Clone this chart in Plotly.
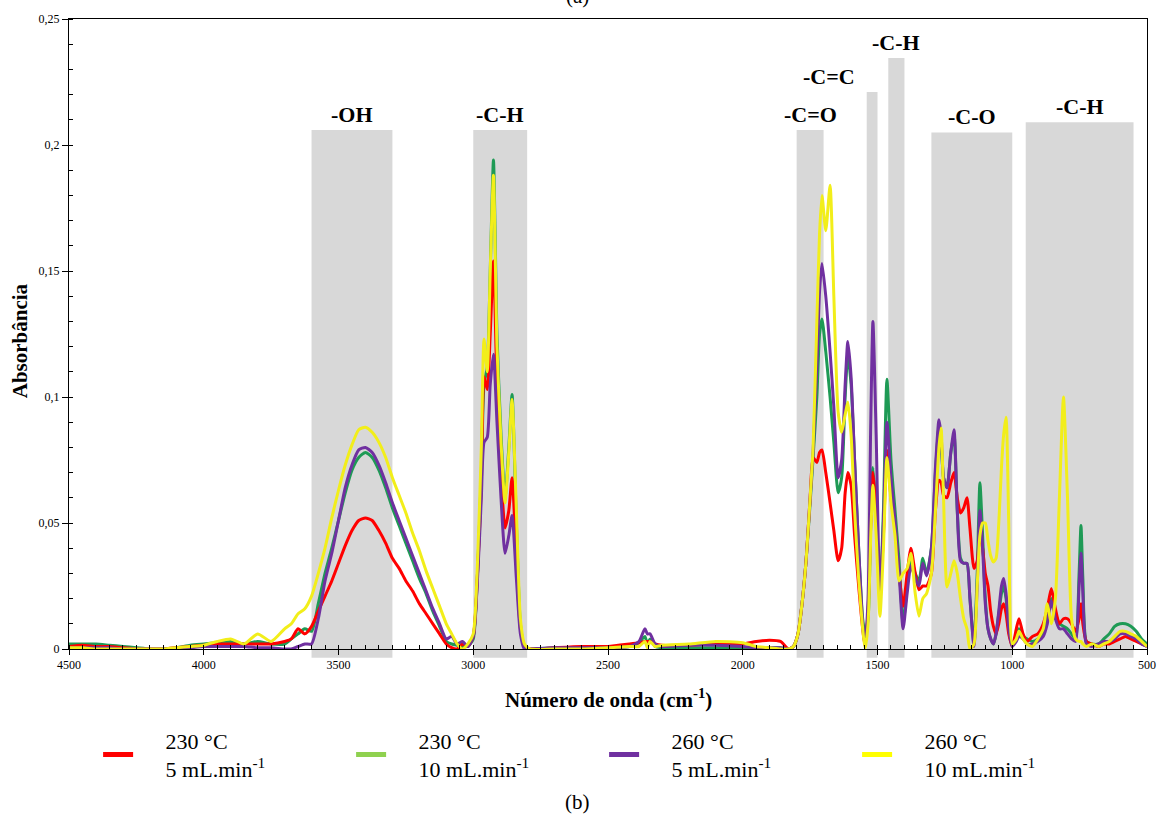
import plotly.graph_objects as go

# ---------------- data ----------------
wavenumber = [
    4500, 4450, 4400, 4350, 4300, 4250, 4200, 4150, 4100, 4050, 4000, 3950, 3900, 3850, 3800, 3750,
    3700, 3675, 3650, 3625,
    3600, 3575, 3550, 3525, 3500, 3475, 3450, 3425, 3400, 3375, 3350, 3325, 3300, 3275, 3250, 3225,
    3200, 3175, 3150, 3125, 3100,
    3080, 3060, 3040, 3020, 3000,
    2985, 2970, 2960, 2948, 2937, 2925, 2912, 2897, 2882, 2868, 2856, 2840, 2825, 2810, 2790,
    2700, 2600, 2500, 2420, 2385, 2363, 2354, 2344, 2325, 2300, 2200, 2100, 2000, 1950, 1900, 1860, 1830,
    1812, 1795, 1780, 1765, 1750, 1739, 1725, 1715, 1706, 1692, 1676, 1662, 1646, 1633, 1620, 1610,
    1598, 1585, 1570, 1555, 1546,
    1535, 1525, 1517, 1505, 1491, 1478, 1465, 1450, 1435, 1420, 1405, 1390, 1376, 1360, 1346, 1332,
    1318, 1300,
    1285, 1272, 1264, 1255, 1242, 1228, 1216, 1204, 1192, 1180, 1168, 1157, 1142, 1130, 1120, 1110,
    1100, 1090, 1080, 1070, 1060, 1050, 1040, 1032, 1023, 1013, 1000,
    985, 975, 960, 945, 925, 905, 885, 870, 855, 840, 825, 810, 795, 780, 765, 752, 745, 738, 725,
    705, 680, 660, 640, 620, 600, 580, 560, 540, 520, 500,
]

abs_230_5 = [
    0.001, 0.0015, 0.001, 0.001, 0.0005, 0, 0, 0, 0.0005, 0.001, 0.0015, 0.002, 0.002, 0.002, 0.002, 0.002,
    0.003, 0.004, 0.008, 0.006,
    0.009, 0.015, 0.021, 0.027, 0.034, 0.041, 0.047, 0.051, 0.052, 0.051, 0.047, 0.042, 0.036, 0.032, 0.027, 0.023,
    0.018, 0.014, 0.010, 0.006, 0.002,
    0.0005, 0.0, 0.002, 0.001, 0.005,
    0.028, 0.065, 0.108, 0.103, 0.125, 0.154, 0.105, 0.070, 0.048, 0.055, 0.068, 0.035, 0.008, 0.001, 0.0,
    0.0005, 0.001, 0.001, 0.002, 0.0025, 0.003, 0.003, 0.003, 0.002, 0.0015, 0.0015, 0.002, 0.002, 0.003, 0.0035, 0.003, 0.0,
    0.001, 0.006, 0.018, 0.035, 0.060, 0.076, 0.074, 0.078, 0.079, 0.070, 0.058, 0.047, 0.035, 0.040, 0.062, 0.070,
    0.065, 0.045, 0.025, 0.008, 0.001,
    0.015, 0.050, 0.070, 0.055, 0.022, 0.045, 0.079, 0.060, 0.048, 0.030, 0.017, 0.030, 0.040, 0.030, 0.0235, 0.025,
    0.025, 0.030,
    0.055, 0.067, 0.066, 0.061, 0.060, 0.066, 0.070, 0.060, 0.054, 0.056, 0.060, 0.048, 0.032, 0.035, 0.046, 0.040,
    0.030, 0.025, 0.015, 0.009, 0.006, 0.010, 0.016, 0.018, 0.014, 0.006, 0.001,
    0.008, 0.012, 0.006, 0.003, 0.005, 0.006, 0.010, 0.016, 0.024, 0.016, 0.010, 0.012, 0.012, 0.010, 0.007, 0.012, 0.018, 0.010, 0.003,
    0.002, 0.001, 0.002, 0.002, 0.003, 0.004, 0.005, 0.004, 0.003, 0.002, 0.001,
]

abs_230_10 = [
    0.002, 0.002, 0.002, 0.0015, 0.001, 0.0005, 0, 0, 0.0005, 0.0015, 0.002, 0.0025, 0.003, 0.002, 0.003, 0.002,
    0.002, 0.004, 0.006, 0.008,
    0.007, 0.018, 0.030, 0.040, 0.051, 0.062, 0.071, 0.076, 0.078, 0.076, 0.071, 0.064, 0.056, 0.049, 0.042, 0.035,
    0.028, 0.022, 0.015, 0.009, 0.003,
    0.002, 0.0015, 0.001, 0.001, 0.004,
    0.028, 0.070, 0.105, 0.112, 0.150, 0.194, 0.125, 0.085, 0.060, 0.080, 0.101, 0.050, 0.010, 0.001, 0.0,
    0.0005, 0.0005, 0.0005, 0.001, 0.0025, 0.005, 0.002, 0.004, 0.001, 0.0005, 0.0005, 0.0005, 0.0005, 0.0005, 0.0005, 0.0005, 0.0,
    0.001, 0.006, 0.018, 0.035, 0.058, 0.076, 0.100, 0.125, 0.131, 0.118, 0.100, 0.082, 0.062, 0.068, 0.100, 0.117,
    0.105, 0.075, 0.040, 0.012, 0.006,
    0.012, 0.050, 0.072, 0.055, 0.022, 0.055, 0.107, 0.075, 0.055, 0.035, 0.010, 0.025, 0.036, 0.030, 0.027, 0.036,
    0.030, 0.040,
    0.070, 0.088, 0.082, 0.068, 0.064, 0.078, 0.085, 0.055, 0.036, 0.034, 0.034, 0.020, 0.002, 0.030, 0.066, 0.045,
    0.020, 0.008, 0.004, 0.002, 0.006, 0.014, 0.022, 0.025, 0.020, 0.008, 0.001,
    0.005, 0.008, 0.005, 0.004, 0.003, 0.004, 0.007, 0.012, 0.020, 0.014, 0.010, 0.009, 0.008, 0.006, 0.004, 0.030, 0.049, 0.028, 0.003,
    0.002, 0.002, 0.004, 0.006, 0.009, 0.010, 0.010, 0.009, 0.007, 0.004, 0.002,
]

abs_260_5 = [
    0.0005, 0.0005, 0.0005, 0.0005, 0, 0, 0, 0, 0, 0.0005, 0.001, 0.001, 0.001, 0.001, 0.0005, 0.0005,
    0.0, 0.0, 0.001, 0.002,
    0.002, 0.012, 0.027, 0.038, 0.051, 0.064, 0.073, 0.079, 0.080, 0.078, 0.073, 0.066, 0.058, 0.051, 0.044, 0.037,
    0.030, 0.023, 0.016, 0.010, 0.004,
    0.005, 0.002, 0.003, 0.001, 0.005,
    0.026, 0.060, 0.082, 0.084, 0.105, 0.117, 0.090, 0.060, 0.038, 0.045, 0.053, 0.028, 0.006, 0.0, 0.0,
    0.0005, 0.0005, 0.0005, 0.001, 0.003, 0.008, 0.006, 0.006, 0.002, 0.001, 0.0015, 0.0015, 0.001, 0.0005, 0.0005, 0.0005, 0.0,
    0.001, 0.006, 0.018, 0.035, 0.060, 0.078, 0.112, 0.142, 0.153, 0.140, 0.118, 0.096, 0.068, 0.075, 0.105, 0.122,
    0.108, 0.075, 0.040, 0.010, 0.001,
    0.020, 0.090, 0.130, 0.085, 0.022, 0.050, 0.090, 0.068, 0.051, 0.030, 0.008, 0.022, 0.033, 0.028, 0.025, 0.034,
    0.029, 0.040,
    0.072, 0.091, 0.085, 0.068, 0.064, 0.078, 0.087, 0.055, 0.035, 0.034, 0.034, 0.020, 0.001, 0.025, 0.055, 0.040,
    0.018, 0.008, 0.004, 0.002, 0.006, 0.015, 0.025, 0.028, 0.022, 0.008, 0.001,
    0.003, 0.005, 0.004, 0.002, 0.002, 0.003, 0.005, 0.010, 0.019, 0.012, 0.008, 0.008, 0.006, 0.004, 0.003, 0.025, 0.038, 0.022, 0.002,
    0.001, 0.002, 0.003, 0.003, 0.004, 0.006, 0.006, 0.005, 0.004, 0.002, 0.001,
]

abs_260_10 = [
    0.0005, 0.0005, 0, 0, 0, 0, 0, 0, 0.0005, 0.001, 0.0015, 0.003, 0.004, 0.002, 0.006, 0.003,
    0.008, 0.010, 0.014, 0.016,
    0.021, 0.030, 0.040, 0.052, 0.063, 0.073, 0.081, 0.087, 0.088, 0.086, 0.082, 0.076, 0.068, 0.061, 0.054, 0.046,
    0.039, 0.031, 0.024, 0.017, 0.010,
    0.006, 0.002, 0.0, 0.002, 0.006,
    0.032, 0.080, 0.123, 0.110, 0.150, 0.188, 0.120, 0.082, 0.058, 0.078, 0.099, 0.055, 0.012, 0.002, 0.0,
    0.0, 0.0, 0.0005, 0.001, 0.001, 0.003, 0.0005, 0.003, 0.001, 0.0015, 0.002, 0.003, 0.0025, 0.001, 0.0005, 0.0, 0.0,
    0.001, 0.006, 0.018, 0.035, 0.060, 0.080, 0.130, 0.165, 0.180, 0.166, 0.184, 0.140, 0.094, 0.086, 0.093, 0.098,
    0.085, 0.055, 0.028, 0.008, 0.0,
    0.010, 0.045, 0.065, 0.045, 0.013, 0.040, 0.076, 0.058, 0.045, 0.027, 0.030, 0.032, 0.038, 0.022, 0.013, 0.020,
    0.022, 0.030,
    0.055, 0.080, 0.0877, 0.060, 0.0246, 0.030, 0.035, 0.030, 0.020, 0.012, 0.008, 0.0, 0.002, 0.025, 0.045, 0.050,
    0.050, 0.043, 0.037, 0.0345, 0.036, 0.050, 0.072, 0.085, 0.092, 0.050, 0.002,
    0.004, 0.007, 0.004, 0.002, 0.001, 0.004, 0.008, 0.018, 0.010, 0.020, 0.060, 0.100, 0.060, 0.012, 0.004, 0.003, 0.003, 0.002, 0.001,
    0.002, 0.001, 0.002, 0.003, 0.005, 0.007, 0.007, 0.006, 0.005, 0.003, 0.001,
]

temperatures = ["230 °C", "230 °C", "260 °C", "260 °C"]
flow_rates = ["5 mL.min<sup>-1</sup>", "10 mL.min<sup>-1</sup>",
              "5 mL.min<sup>-1</sup>", "10 mL.min<sup>-1</sup>"]

# absorption bands (grey boxes)
band_start = [3600, 3000, 1800, 1540, 1460, 1300, 950]
band_end = [3300, 2800, 1700, 1500, 1400, 1000, 550]
band_top = [0.206, 0.206, 0.206, 0.221, 0.2345, 0.205, 0.209]
band_label = ["-OH", "-C-H", "-C=O", "-C=C", "-C-H", "-C-O", "-C-H"]
band_label_x = [3450, 2900, 1750, 1680, 1430, 1150, 750]

x_ticks = [4500, 4000, 3500, 3000, 2500, 2000, 1500, 1000, 500]

# ---------------- styling ----------------
series = [abs_230_5, abs_230_10, abs_260_5, abs_260_10]
trace_colors = ["#FF0000", "#1E9A55", "#7030A0", "#F2EE1A"]
legend_colors = ["#FF0000", "#8FD14F", "#7030A0", "#FFFF00"]
SERIF = "Liberation Serif"
PAD = "&nbsp;" * 5

fig = go.Figure()

for idx in [1, 0, 2, 3]:
    fig.add_trace(go.Scatter(
        x=wavenumber, y=series[idx], mode="lines",
        line=dict(color=trace_colors[idx], width=3, shape="spline", smoothing=0.6),
        showlegend=False, hoverinfo="skip",
    ))

for idx in range(4):
    fig.add_trace(go.Scatter(
        x=[None], y=[None], mode="lines",
        name=PAD + temperatures[idx] + "<br>" + PAD + flow_rates[idx],
        line=dict(color=legend_colors[idx], width=5),
    ))

Y_MAX = 0.25
for x0, x1, top in zip(band_start, band_end, band_top):
    fig.add_shape(type="rect", xref="x", yref="paper", x0=x0, x1=x1,
                  y0=-0.014, y1=top / Y_MAX, fillcolor="#D8D8D8",
                  line=dict(width=0), layer="below")

for lx, top, lab in zip(band_label_x, band_top, band_label):
    fig.add_annotation(x=lx, y=top, xref="x", yref="y", text="<b>%s</b>" % lab,
                       showarrow=False, yanchor="bottom", yshift=1,
                       font=dict(family=SERIF, size=22, color="black"))

# axis titles
fig.add_annotation(x=0.5, y=-0.079, xref="paper", yref="paper",
                   text="<b>Número de onda (cm<sup>-1</sup>)</b>",
                   showarrow=False, xanchor="center", yanchor="middle",
                   font=dict(family=SERIF, size=21, color="black"))
fig.add_annotation(x=-0.0455, y=0.49, xref="paper", yref="paper",
                   text="<b>Absorbância</b>", textangle=-90,
                   showarrow=False, xanchor="center", yanchor="middle",
                   font=dict(family=SERIF, size=21, color="black"))

fig.add_annotation(x=0.472, y=-0.243, xref="paper", yref="paper", text="(b)",
                   showarrow=False, yanchor="middle",
                   font=dict(family=SERIF, size=21, color="black"))
fig.add_annotation(x=0.472, y=1.036, xref="paper", yref="paper", text="(a)",
                   showarrow=False, yanchor="middle",
                   font=dict(family=SERIF, size=21, color="black"))

axis_common = dict(
    showline=True, linecolor="black", linewidth=1, mirror=True, automargin=False,
    showgrid=False, zeroline=False, ticks="outside",
    tickcolor="black", tickfont=dict(family=SERIF, size=12, color="black"),
)

fig.update_xaxes(
    range=[4500, 500], tickvals=x_ticks, ticklen=5,
    minor=dict(dtick=50, ticks="inside", ticklen=4, tickcolor="black", showgrid=False),
    **axis_common,
)
fig.update_yaxes(
    range=[0, Y_MAX], dtick=0.05, ticklen=6,
    minor=dict(dtick=0.01, ticks="inside", ticklen=4, tickcolor="black", showgrid=False),
    **axis_common,
)

fig.update_layout(
    width=1158, height=818,
    margin=dict(l=69, r=11, t=19, b=169),
    paper_bgcolor="white", plot_bgcolor="white",
    separators=", ",
    font=dict(family=SERIF, color="black"),
    hovermode=False,
    legend=dict(orientation="h", x=0.027, y=-0.168, xanchor="left", yanchor="middle",
                entrywidth=208, entrywidthmode="pixels",
                font=dict(family=SERIF, size=22, color="black"),
                bgcolor="rgba(0,0,0,0)"),
)

fig.write_html("out.html", config={"displayModeBar": False},
               post_script="document.body.style.margin='0px';")
